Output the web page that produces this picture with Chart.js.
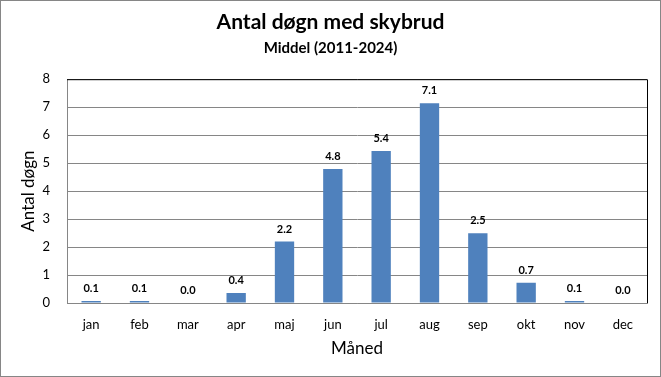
<!DOCTYPE html>
<html><head><meta charset="utf-8">
<script src="https://cdn.jsdelivr.net/npm/chart.js@4"></script>
<style>html,body{margin:0;padding:0;background:#fff}#w{width:661px;height:377px;position:relative}</style>
</head><body><div id="w"><canvas id="c"></canvas></div>
<script>
const months = ['jan','feb','mar','apr','maj','jun','jul','aug','sep','okt','nov','dec'];
const meanDays = [0.07,0.07,0.0,0.36,2.2,4.79,5.43,7.14,2.49,0.72,0.07,0.0];
const yTicks = [0,1,2,3,4,5,6,7,8];
const titleText = 'Antal døgn med skybrud';
const subtitleText = 'Middel (2011-2024)';
const yTitle = 'Antal døgn';
const xTitle = 'Måned';

const FONT = 'Lato, "Open Sans", sans-serif';

const extras = {
  id:'extras',
  afterDatasetsDraw(chart){
    const ctx = chart.ctx;
    const meta = chart.getDatasetMeta(0);
    ctx.save();
    ctx.font = 'bold 11px ' + FONT;
    ctx.fillStyle = '#000';
    ctx.textAlign = 'center';
    ctx.textBaseline = 'bottom';
    meta.data.forEach((bar,i)=>{
      ctx.fillText(meanDays[i].toFixed(1), bar.x, bar.y - 7);
    });
    ctx.restore();
  },
  afterDraw(chart){
    const ctx = chart.ctx, a = chart.chartArea;
    ctx.save();
    ctx.strokeStyle = '#000'; ctx.lineWidth = 1;
    ctx.beginPath();
    ctx.moveTo(a.left, a.top+0.5); ctx.lineTo(a.right+0.5, a.top+0.5); ctx.lineTo(a.right+0.5, a.bottom);
    ctx.stroke();
    ctx.strokeStyle = '#868686';
    ctx.strokeRect(0.5,0.5,chart.width-1,chart.height-1);
    ctx.restore();
  }
};

new Chart(document.getElementById('c'), {
  type:'bar',
  data:{labels:months, datasets:[{data:meanDays, backgroundColor:'#4F81BD', barPercentage:0.4, categoryPercentage:1.0}]},
  options:{
    responsive:true, maintainAspectRatio:false, animation:false,
    layout:{padding:{left:14,right:14,top:8,bottom:14}},
    plugins:{
      legend:{display:false}, tooltip:{enabled:false},
      title:{display:true, text:titleText, color:'#000', font:{family:FONT, size:21, weight:'bold'}, padding:{top:2,bottom:4}},
      subtitle:{display:true, text:subtitleText, color:'#000', font:{family:FONT, size:15, weight:'bold'}, padding:{top:0,bottom:22}}
    },
    scales:{
      x:{
        grid:{display:false, drawTicks:false},
        border:{color:'#868686'},
        ticks:{color:'#000', font:{family:FONT, size:13}, padding:14},
        title:{display:true, text:xTitle, color:'#000', font:{family:FONT, size:17}, padding:{top:2}},
        afterFit(s){ s.height = 377 - 303 - 14; }
      },
      y:{
        min:0, max:8,
        afterBuildTicks(s){ s.ticks = yTicks.map(v=>({value:v})); },
        grid:{color:'#868686', drawTicks:false},
        border:{color:'#868686'},
        ticks:{color:'#000', font:{family:FONT, size:13}, padding:17},
        title:{display:true, text:yTitle, color:'#000', font:{family:FONT, size:17}, padding:{bottom:0}},
        afterFit(s){ s.width = 67 - 14; }
      }
    }
  },
  plugins:[extras]
});
</script></body></html>
